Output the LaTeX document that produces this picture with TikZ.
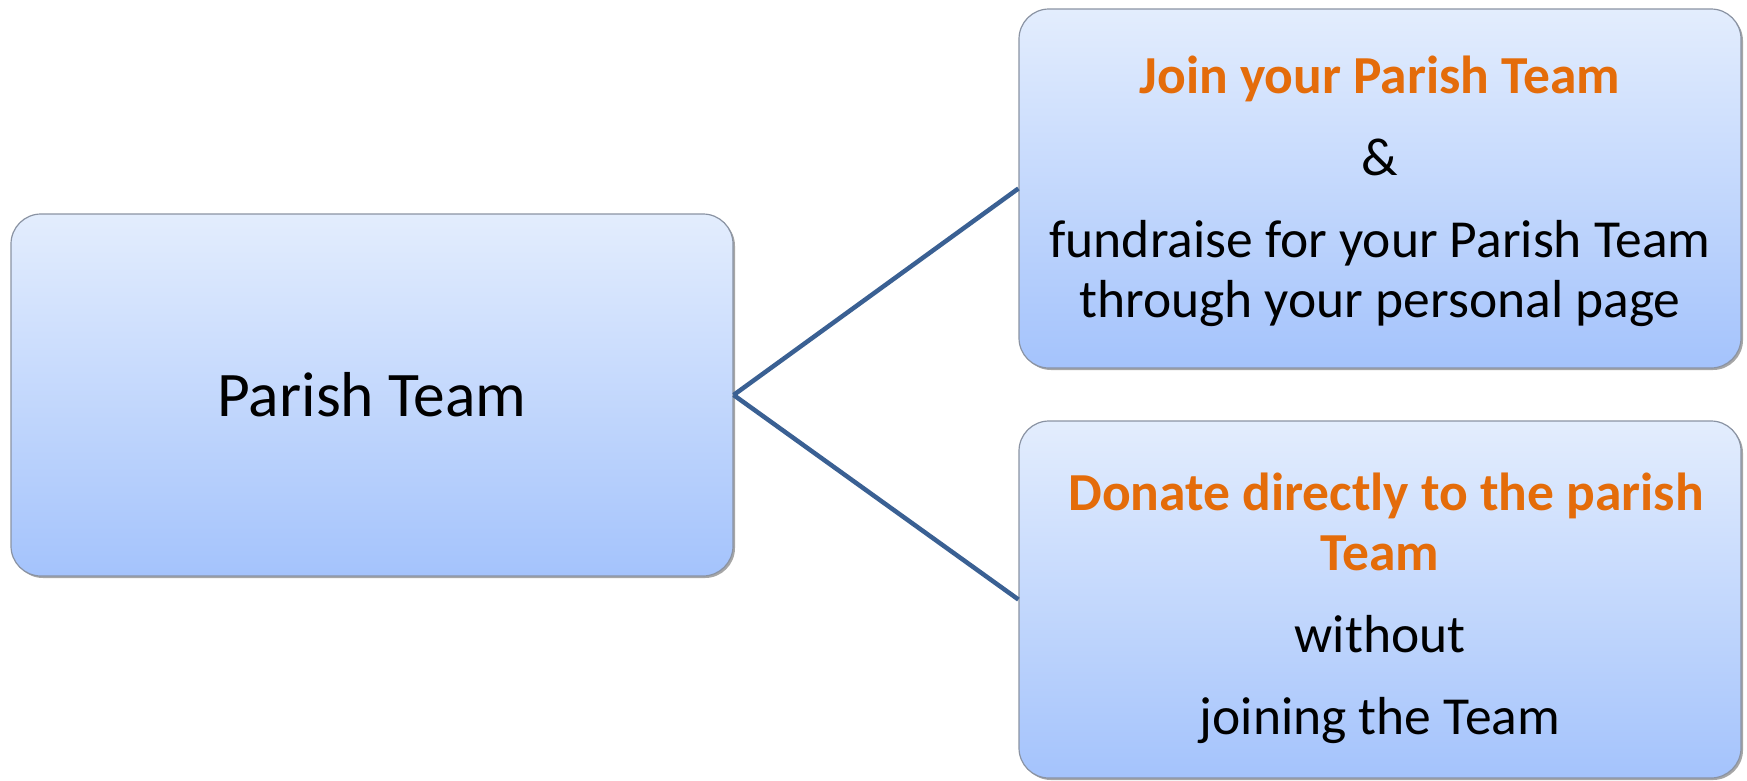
\documentclass[tikz,border=0pt]{standalone}
\usepackage{fontspec}
\setmainfont{Carlito}
\usetikzlibrary{shadows}
\definecolor{boxtop}{HTML}{E3EDFD}
\definecolor{boxbot}{HTML}{A4C3FC}
\definecolor{boxline}{HTML}{8A93A3}
\definecolor{connclr}{HTML}{3A6093}
\definecolor{orangetxt}{HTML}{E46C0A}
\begin{document}
\begin{tikzpicture}[x=1pt,y=-1pt,
  box/.style={draw=boxline, line width=1.2pt, rounded corners=30pt,
    top color=boxtop, bottom color=boxbot, minimum width=722pt,
    align=center, inner sep=0pt, text=black,
    drop shadow={shadow xshift=2pt, shadow yshift=-2pt, opacity=0.35, fill=black}},
  bodytext/.style={font=\fontsize{53.5}{60}\selectfont},
  connector/.style={draw=connclr, line width=4.5pt}]
\useasboundingbox (0,0) rectangle (1747,780);
\node[box, minimum height=362pt, font=\fontsize{63.5}{70}\selectfont] (parish) at (372,395) {Parish Team};
\node[box, bodytext, minimum height=359pt] (join) at (1380,188.5)
  {\rule{0pt}{44pt}{\bfseries\color{orangetxt}Join your Parish Team}\\[22pt]
   \&\\[22pt]
   fundraise for your Parish Team\\
   through your personal page};
\node[box, bodytext, minimum height=357pt] (donate) at (1380,599.5)
  {\rule{0pt}{56pt}{\bfseries\color{orangetxt}\hspace*{12pt}Donate directly to the parish}\\
   {\bfseries\color{orangetxt}Team}\\[22pt]
   without\\[22pt]
   joining the Team};
\draw[connector] (parish.east) -- (join.west);
\draw[connector] (parish.east) -- (donate.west);
\end{tikzpicture}
\end{document}
